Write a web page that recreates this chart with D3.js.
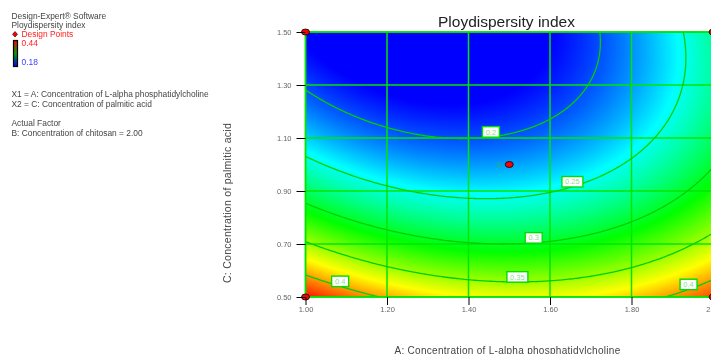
<!DOCTYPE html>
<html>
<head>
<meta charset="UTF-8">
<title>Ploydispersity index</title>
<style>
  * { margin: 0; padding: 0; }
  body { width: 711px; height: 354px; overflow: hidden; background: #fff; position: relative;
         font-family: 'Liberation Sans', Arial, sans-serif; }
  #map { position: absolute; left: 0; top: 0; }
  #chart { position: absolute; left: 0; top: 0; }
</style>
</head>
<body>
<canvas id="map" width="711" height="354"></canvas>
<svg id="chart" width="711" height="354"></svg>
<script src="https://cdn.jsdelivr.net/npm/d3@7"></script>
<script>
// quadratic model, coded units: a = (A-1.5)/0.5, c = (C-1.0)/0.5
const coefNames = ["Intercept", "A", "C", "AC", "A2", "C2"];
const coefValues = [0.2211, 0.0203, -0.1024, 0.0277, 0.057, 0.0487];

const aTicks = [1.00, 1.20, 1.40, 1.60, 1.80, 2.00];
const cTicks = [0.50, 0.70, 0.90, 1.10, 1.30, 1.50];

const contourLevels = [0.2, 0.25, 0.3, 0.35, 0.4];
const labelLevels = [0.2, 0.25, 0.3, 0.35, 0.4, 0.4];
const labelA = [1.455, 1.655, 1.56, 1.52, 1.085, 1.94];

const designA = [1.0, 2.0, 1.0, 2.0, 1.5];
const designC = [1.5, 1.5, 0.5, 0.5, 1.0];
const designReps = [1, 1, 1, 1, 5];

const colorStops = [0.18, 0.245, 0.31, 0.375, 0.44];
const colorRange = ["#0000ff", "#00ffff", "#00ff00", "#ffff00", "#ff0000"];

const [b0, b1, b2, b12, b11, b22] = coefValues;
function pdi(A, C) {
  const a = (A - 1.5) / 0.5, c = (C - 1.0) / 0.5;
  return b0 + b1 * a + b2 * c + b12 * a * c + b11 * a * a + b22 * c * c;
}

const x = d3.scaleLinear().domain([1, 2]).range([305.5, 713]);
const y = d3.scaleLinear().domain([0.5, 1.5]).range([297, 32]);
const color = d3.scaleLinear().domain(colorStops).range(colorRange).clamp(true);

// colour map
const canvas = document.getElementById("map");
const ctx = canvas.getContext("2d");
const x0 = 305, y0 = 32, w = 408, h = 265;
const img = ctx.createImageData(w, h);
for (let j = 0; j < h; j++) {
  for (let i = 0; i < w; i++) {
    const v = pdi(x.invert(x0 + i + 0.5), y.invert(y0 + j + 0.5));
    const col = d3.rgb(color(v));
    const k = (j * w + i) * 4;
    img.data[k] = col.r; img.data[k + 1] = col.g; img.data[k + 2] = col.b; img.data[k + 3] = 255;
  }
}
ctx.putImageData(img, x0, y0);

const svg = d3.select("#chart");

svg.append("clipPath").attr("id", "plotClip")
  .append("rect").attr("x", 305.5).attr("y", 32).attr("width", 407.5).attr("height", 265);

// grid
const grid = svg.append("g").attr("stroke", "#00e600").attr("stroke-width", 1.5);
grid.selectAll("line.v").data(aTicks).join("line")
  .attr("x1", d => x(d)).attr("x2", d => x(d)).attr("y1", y(0.5)).attr("y2", y(1.5));
grid.selectAll("line.h").data(cTicks).join("line")
  .attr("x1", x(1)).attr("x2", x(2)).attr("y1", d => y(d)).attr("y2", d => y(d));

// contours
const nx = 201, ny = 201;
const values = new Array(nx * ny);
for (let j = 0; j < ny; j++)
  for (let i = 0; i < nx; i++)
    values[j * nx + i] = pdi(1 + i / (nx - 1), 0.5 + j / (ny - 1));
const contours = d3.contours().size([nx, ny]).thresholds(contourLevels)(values);
const proj = d3.geoTransform({
  point(px, py) {
    this.stream.point(x(1 + (px - 0.5) / (nx - 1)), y(0.5 + (py - 0.5) / (ny - 1)));
  }
});
svg.append("g").attr("clip-path", "url(#plotClip)")
  .selectAll("path").data(contours).join("path")
  .attr("d", d3.geoPath(proj))
  .attr("fill", "none").attr("stroke", "#00d000").attr("stroke-width", 1.3);

// plot border
svg.append("rect").attr("x", 305.5).attr("y", 32).attr("width", 407.5).attr("height", 265)
  .attr("fill", "none").attr("stroke", "#00e600").attr("stroke-width", 1.5);

// contour labels (boxes sit just above the line, as Design-Expert draws them)
function levelC(level, A) {
  const a = (A - 1.5) / 0.5;
  const qa = b22, qb = b2 + b12 * a, qc = b0 + b1 * a + b11 * a * a - level;
  const disc = Math.sqrt(Math.max(0, qb * qb - 4 * qa * qc));
  const roots = [(-qb - disc) / (2 * qa), (-qb + disc) / (2 * qa)].filter(c => c >= -1 && c <= 1);
  return 1.0 + 0.5 * roots[0];
}
const lab = svg.append("g").selectAll("g").data(labelLevels).join("g")
  .attr("transform", (d, i) => `translate(${x(labelA[i])},${y(levelC(d, labelA[i])) - 5})`);
lab.append("rect")
  .attr("x", d => -(String(d).length * 4 + 5) / 2).attr("y", -5.25)
  .attr("width", d => String(d).length * 4 + 5).attr("height", 10.5)
  .attr("fill", "#fff").attr("stroke", "#00dd00").attr("stroke-width", 1.4);
lab.append("text").text(d => String(d))
  .attr("text-anchor", "middle").attr("dy", "0.35em")
  .attr("font-size", 7.5).attr("fill", "#8fdc8f");

// design points
const pts = svg.append("g").selectAll("g").data(designA).join("g")
  .attr("transform", (d, i) => `translate(${x(d)},${y(designC[i])})`);
pts.append("ellipse").attr("rx", 4).attr("ry", 3)
  .attr("fill", "#ff0000").attr("stroke", "#000").attr("stroke-width", 0.8);
pts.filter((d, i) => designReps[i] > 1).append("text")
  .text(d => designReps[designA.indexOf(d)])
  .attr("x", -10).attr("dy", "0.35em").attr("text-anchor", "middle")
  .attr("font-size", 9).attr("fill", "#20b080");

// axes
const yAxis = svg.append("g").attr("transform", "translate(305.5,0)")
  .call(d3.axisLeft(y).tickValues(cTicks).tickSize(9).tickPadding(5).tickFormat(d3.format(".2f")));
const xAxis = svg.append("g").attr("transform", "translate(0,297)")
  .call(d3.axisBottom(x).tickValues(aTicks).tickSize(8).tickPadding(2).tickFormat(d3.format(".2f")));
[xAxis, yAxis].forEach(g => {
  g.select(".domain").remove();
  g.selectAll(".tick line").attr("stroke", "#000");
  g.selectAll(".tick text").attr("font-size", 7.5).attr("fill", "#666")
    .attr("font-family", "'Liberation Sans', Arial, sans-serif");
});

// titles
svg.append("text").text("Ploydispersity index")
  .attr("x", 506.5).attr("y", 26.5).attr("text-anchor", "middle")
  .attr("font-size", 15.5).attr("fill", "#222");
svg.append("text").text("A: Concentration of L-alpha phosphatidylcholine")
  .attr("x", 507.5).attr("y", 353.5).attr("text-anchor", "middle")
  .attr("font-size", 10).attr("letter-spacing", 0.29).attr("fill", "#444");
svg.append("text").text("C: Concentration of palmitic acid")
  .attr("transform", "translate(231,203) rotate(-90)").attr("text-anchor", "middle")
  .attr("font-size", 10.5).attr("letter-spacing", 0.27).attr("fill", "#444");

// left legend
const legendLines = [
  ["Design-Expert\u00ae Software", 18.5, 11.5, "#444"],
  ["Ploydispersity index", 28, 11.5, "#444"],
  ["Design Points", 37.3, 21.5, "#ff2020"],
  ["0.44", 46.3, 21.5, "#ff2020"],
  ["0.18", 65.3, 21.5, "#4040ff"],
  ["X1 = A: Concentration of L-alpha phosphatidylcholine", 97.3, 11.5, "#444"],
  ["X2 = C: Concentration of palmitic acid", 107.3, 11.5, "#444"],
  ["Actual Factor", 126.3, 11.5, "#444"],
  ["B: Concentration of chitosan = 2.00", 135.7, 11.5, "#444"]
];
svg.append("g").selectAll("text").data(legendLines).join("text")
  .text(d => d[0]).attr("x", d => d[2]).attr("y", d => d[1])
  .attr("font-size", 8.4).attr("fill", d => d[3]);
svg.append("path").attr("d", "M15,31.5 L17.5,34.3 L15,37 L12.5,34.3 Z")
  .attr("fill", "#ff0000").attr("stroke", "#000").attr("stroke-width", 0.6);
const grad = svg.append("defs").append("linearGradient").attr("id", "bar")
  .attr("x1", 0).attr("x2", 0).attr("y1", 0).attr("y2", 1);
grad.selectAll("stop").data(["#ff0000", "#00a000", "#0000ff"]).join("stop")
  .attr("offset", (d, i) => i / 2).attr("stop-color", d => d);
svg.append("rect").attr("x", 13.5).attr("y", 40.5).attr("width", 4).attr("height", 26)
  .attr("fill", "url(#bar)").attr("stroke", "#000").attr("stroke-width", 1.2);
</script>
</body>
</html>
